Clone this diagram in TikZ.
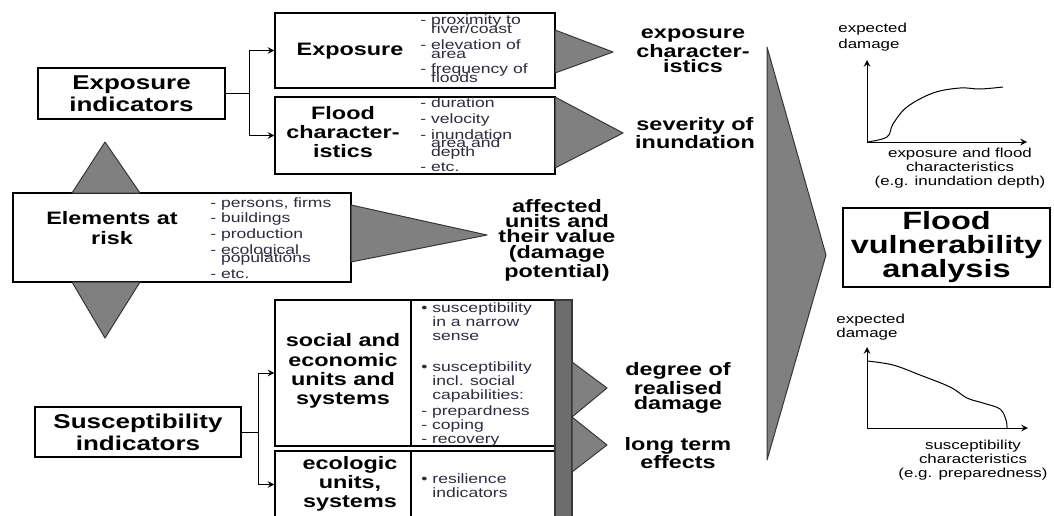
\documentclass[tikz,border=0pt]{standalone}
\usepackage{fontspec}
\setmainfont{Liberation Sans}[FakeStretch=1.3]
\usetikzlibrary{shapes,arrows}

\definecolor{listtext}{RGB}{45,45,62}
\definecolor{wedgefill}{RGB}{128,128,128}
\definecolor{wedgeline}{RGB}{55,55,55}

\newcommand{\bigfont}{\fontsize{10pt}{11pt}\selectfont\bfseries}
\newcommand{\boxfont}{\fontsize{9pt}{9.6pt}\selectfont\bfseries}
\newcommand{\resfont}{\fontsize{9pt}{7.7pt}\selectfont\bfseries}
\newcommand{\listfont}{\fontsize{6.75pt}{7.8pt}\selectfont\color{listtext}}
\newcommand{\celfont}{\fontsize{6.75pt}{7pt}\selectfont\color{listtext}}
\newcommand{\axfont}{\fontsize{6.5pt}{7pt}\selectfont}
\newcommand{\fvafont}{\fontsize{12.5pt}{12pt}\selectfont\bfseries}
\newcommand{\cont}{\hphantom{- }}
\newcommand{\bcont}{\hphantom{\textbullet\ }}

\begin{document}
\begin{tikzpicture}[>=stealth, x=0.5pt, y=-0.5pt]
    % Styles
    \tikzstyle{box} = [rectangle, draw, line width=0.6pt, fill=white, inner sep=0pt, align=center]
    \tikzstyle{txt} = [inner sep=0pt, align=center]
    \tikzstyle{lst} = [inner sep=0pt, align=left, anchor=west, font=\listfont]
    \tikzstyle{wedge} = [fill=wedgefill, draw=wedgeline, line width=0.5pt, line join=round]
    \tikzstyle{link} = [->, line width=0.5pt]
    \tikzstyle{curve} = [line width=0.5pt]

    \useasboundingbox (0,0) rectangle (1054,515);
    \fill[white] (0,0) rectangle (1054,515);
    \begin{scope}
    \clip (0,0) rectangle (1054,515);

    % Nodes
    \node[box, font=\bigfont, minimum width=93.5pt, minimum height=25.5pt] (expind) at (131.5,93.5) {Exposure\\indicators};

    \node[box, minimum width=140pt, minimum height=37.5pt] (expo) at (415,50.5) {};
    \node[txt, font=\boxfont] (expohd) at (350,51) {Exposure};
    \node[lst] (expolst) at (420,49) {- proximity to\\[-3.3pt]\cont river/coast\\- elevation of\\[-3.3pt]\cont area\\- frequency of\\[-3.3pt]\cont floods};

    \node[box, minimum width=140pt, minimum height=38.5pt] (flood) at (415,135.5) {};
    \node[txt, font=\boxfont] (floodhd) at (343,132) {Flood\\character-\\istics};
    \node[lst] (floodlst) at (420,135) {- duration\\- velocity\\- inundation\\[-3.5pt]\cont area and\\[-3.5pt]\cont depth\\- etc.};

    \node[box, minimum width=169pt, minimum height=44.5pt] (elem) at (182,237.5) {};
    \node[txt, font=\boxfont] (elemhd) at (112,228) {Elements at\\risk};
    \node[lst] (elemlst) at (210,238) {- persons, firms\\- buildings\\- production\\- ecological\\[-3.5pt]\cont populations\\- etc.};

    \node[box, font=\bigfont, minimum width=103pt, minimum height=25pt] (suscind) at (138,432) {Susceptibility\\indicators};

    \node[box, minimum width=68pt, minimum height=73pt] (soc) at (343,373) {};
    \node[box, minimum width=72pt, minimum height=73pt] (socr) at (483,373) {};
    \node[txt, font=\boxfont] (sochd) at (343,371) {social and\\economic\\units and\\systems};
    \node[lst, font=\celfont] (soclst) at (421,374) {\textbullet\ susceptibility\\\bcont in a narrow\\\bcont sense\\[8.5pt]\textbullet\ susceptibility\\\bcont incl. social\\\bcont capabilities:\\[1pt]- prepardness\\- coping\\- recovery};

    \node[box, minimum width=68pt, minimum height=33.5pt] (eco) at (343,484.5) {};
    \node[box, minimum width=72pt, minimum height=33.5pt] (ecor) at (483,484.5) {};
    \node[txt, font=\boxfont] (ecohd) at (350,484) {ecologic\\units,\\systems};
    \node[lst, font=\celfont] (ecolst) at (421,486) {\textbullet\ resilience\\\bcont indicators};

    \node[rectangle, draw=wedgeline, fill=wedgefill!85!black, line width=0.6pt, minimum width=8.5pt, minimum height=109pt, inner sep=0pt] (bar) at (563.5,409) {};

    \node[txt, font=\resfont] (expchar) at (693,51) {exposure\\character-\\istics};
    \node[txt, font=\resfont] (sevinund) at (695,133) {severity of\\inundation};
    \node[txt, font=\resfont] (affected) at (557,240) {affected\\units and\\their value\\(damage\\potential)};
    \node[txt, font=\resfont] (degree) at (678,388) {degree of\\realised\\damage};
    \node[txt, font=\resfont] (longterm) at (678,453) {long term\\effects};

    \node[box, font=\fvafont, minimum width=103.5pt, minimum height=39.5pt] (fva) at (946.5,247.5) {Flood\\vulnerability\\analysis};

    % Wedges
    \filldraw[wedge] (555,30) -- (613,52) -- (555,73) -- cycle;
    \filldraw[wedge] (555,97) -- (623,133) -- (555,168) -- cycle;
    \filldraw[wedge] (351,205) -- (487,235) -- (351,262) -- cycle;
    \filldraw[wedge] (72,193) -- (105,142) -- (140,193) -- cycle;
    \filldraw[wedge] (72,282) -- (105,338) -- (140,282) -- cycle;
    \filldraw[wedge] (572,362) -- (607,388) -- (572,417) -- cycle;
    \filldraw[wedge] (572,417) -- (607,445) -- (572,472) -- cycle;
    \filldraw[wedge] (767,47) -- (826,255) -- (767,460) -- cycle;

    % Arrows
    \draw[link] (expind.east) -- ++(24,0) |- (expo.west);
    \draw[link] (expind.east) -- ++(24,0) |- (flood.west);
    \draw[link] (suscind.east) -- ++(17,0) |- (soc.west);
    \draw[link] (suscind.east) -- ++(17,0) |- (eco.west);

    % Curves
    \coordinate (o1) at (867,142);
    \draw[link] (o1) -- ++(0,-82);
    \draw[link] (o1) -- ++(160,0);
    \draw[curve] plot[smooth, tension=0.6] coordinates {(867,142) (887,137) (893,124) (907,107) (933,93) (960,88) (980,89) (1003,87)};
    \node[txt, align=left, anchor=west, font=\axfont] (ylab1) at (838,37) {expected\\[1pt]damage};
    \node[txt, font=\axfont] (xlab1) at (960,168) {exposure and flood\\characteristics\\(e.g. inundation depth)};

    \coordinate (o2) at (867,428);
    \draw[link] (o2) -- ++(0,-81);
    \draw[link] (o2) -- ++(161,0);
    \draw[curve] plot[smooth, tension=0.6] coordinates {(867,361) (893,365) (920,375) (950,387) (967,398) (983,403) (1000,409) (1006,420) (1007,428)};
    \node[txt, align=left, anchor=west, font=\axfont] (ylab2) at (836,327) {expected\\damage};
    \node[txt, font=\axfont] (xlab2) at (973,460) {susceptibility\\characteristics\\(e.g. preparedness)};
    \end{scope}
\end{tikzpicture}
\end{document}
